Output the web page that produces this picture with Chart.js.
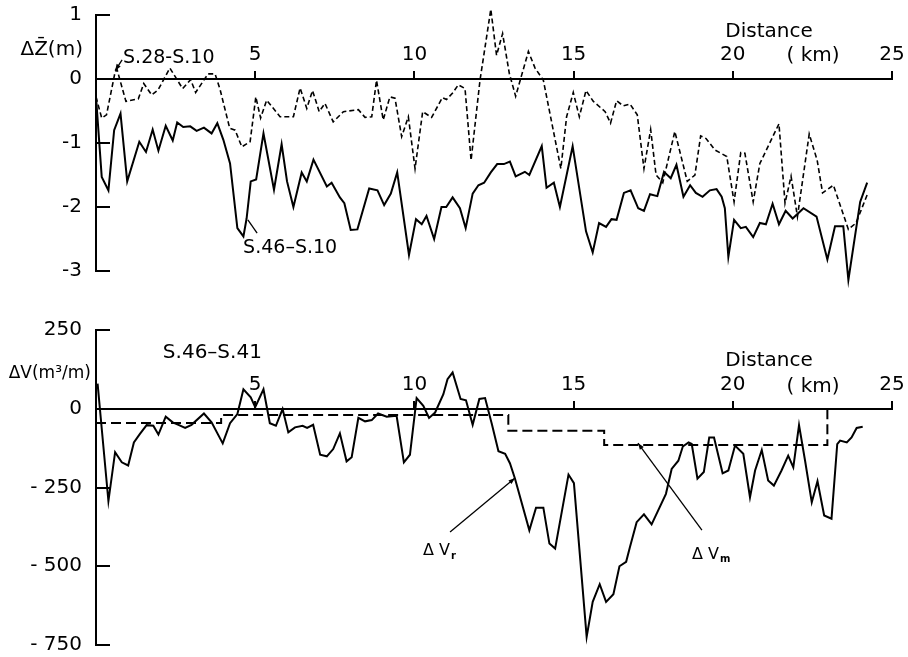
<!DOCTYPE html>
<html>
<head>
<meta charset="utf-8">
<script src="https://cdn.jsdelivr.net/npm/chart.js@4.4.0/dist/chart.umd.min.js"></script>
<style>
  html, body { margin: 0; padding: 0; background: #fff; }
  #wrap { position: relative; width: 908px; height: 657px; }
  canvas { position: absolute; left: 0; }
</style>
</head>
<body>
<div id="wrap">
  <canvas id="topPanel" width="908" height="290" style="top:0"></canvas>
  <canvas id="botPanel" width="908" height="367" style="top:290px"></canvas>
</div>
<script>
// Upper panel: mean bed-level change (m) along the river, km 0-25
const dzSolidKm = [0, 0.18, 0.39, 0.57, 0.77, 0.98, 1.36, 1.57, 1.78, 1.96, 2.19, 2.41, 2.55, 2.74, 2.96, 3.16, 3.39, 3.63, 3.81, 4.0,
  4.21, 4.44, 4.63, 4.73, 4.86, 5.03, 5.26, 5.59, 5.83, 6.0, 6.2, 6.46, 6.62, 6.83, 7.25, 7.4, 7.66, 7.8, 8.0, 8.21,
  8.58, 8.84, 9.05, 9.26, 9.46, 9.83, 10.05, 10.23, 10.38, 10.62, 10.85, 11.0, 11.2, 11.43, 11.61, 11.83, 12.01, 12.19, 12.4, 12.6,
  12.81, 13.0, 13.18, 13.47, 13.61, 14.0, 14.15, 14.38, 14.57, 14.97, 15.39, 15.6, 15.8, 16.02, 16.19, 16.35, 16.58, 16.79, 17.03, 17.21,
  17.4, 17.63, 17.84, 18.05, 18.23, 18.45, 18.66, 18.84, 19.05, 19.28, 19.49, 19.65, 19.75, 19.86, 20.04, 20.25, 20.41, 20.64, 20.85, 21.04,
  21.25, 21.45, 21.66, 21.88, 22.22, 22.63, 22.97, 23.21, 23.47, 23.63, 24.0, 24.22];
const dzSolid = [-0.28, -1.53, -1.74, -0.8, -0.54, -1.6, -0.98, -1.14, -0.79, -1.12, -0.73, -0.96, -0.68, -0.75, -0.74, -0.81, -0.76, -0.85, -0.69, -0.95,
  -1.32, -2.33, -2.46, -2.18, -1.6, -1.57, -0.85, -1.73, -1.02, -1.6, -2.0, -1.46, -1.6, -1.26, -1.68, -1.62, -1.85, -1.94, -2.36, -2.35,
  -1.71, -1.74, -1.97, -1.79, -1.46, -2.75, -2.19, -2.27, -2.14, -2.5, -2.0, -2.0, -1.85, -2.02, -2.33, -1.79, -1.66, -1.62, -1.46, -1.33,
  -1.33, -1.29, -1.52, -1.45, -1.5, -1.05, -1.7, -1.62, -2.0, -1.05, -2.38, -2.71, -2.25, -2.31, -2.19, -2.2, -1.78, -1.74, -2.02, -2.06,
  -1.8, -1.83, -1.45, -1.55, -1.34, -1.84, -1.66, -1.78, -1.84, -1.74, -1.72, -1.84, -2.02, -2.78, -2.2, -2.33, -2.31, -2.47, -2.25, -2.27,
  -1.95, -2.27, -2.06, -2.18, -2.02, -2.15, -2.82, -2.3, -2.3, -3.14, -1.92, -1.62];

const dzDashKm = [0, 0.18, 0.33, 0.6, 0.66, 0.94, 1.33, 1.5, 1.75, 1.95, 2.32, 2.72, 2.97, 3.13, 3.52, 3.74, 3.9, 4.2, 4.37, 4.58,
  4.84, 5.02, 5.17, 5.36, 5.78, 6.2, 6.41, 6.62, 6.8, 7.01, 7.19, 7.45, 7.77, 8.24, 8.45, 8.66, 8.81, 9.02, 9.23, 9.39,
  9.6, 9.81, 10.02, 10.26, 10.54, 10.88, 11.01, 11.2, 11.38, 11.59, 11.78, 12.06, 12.4, 12.58, 12.77, 12.98, 13.18, 13.58, 13.79, 14.05,
  14.6, 14.78, 14.99, 15.18, 15.39, 15.62, 15.99, 16.16, 16.35, 16.56, 16.77, 17.0, 17.21, 17.42, 17.59, 17.8, 18.18, 18.57, 18.81, 18.99,
  19.16, 19.44, 19.81, 20.04, 20.25, 20.38, 20.64, 20.85, 21.45, 21.64, 21.83, 22.03, 22.4, 22.65, 22.82, 23.16, 23.63, 23.87, 24.22];
const dzDash = [-0.28, -0.61, -0.56, 0.11, 0.15, -0.35, -0.31, -0.07, -0.25, -0.17, 0.17, -0.15, -0.01, -0.21, 0.08, 0.08, -0.17, -0.77, -0.8, -1.06,
  -0.98, -0.28, -0.61, -0.33, -0.59, -0.59, -0.14, -0.46, -0.18, -0.51, -0.38, -0.67, -0.51, -0.48, -0.6, -0.59, -0.02, -0.64, -0.28, -0.3,
  -0.9, -0.59, -1.4, -0.51, -0.6, -0.29, -0.32, -0.22, -0.09, -0.15, -1.27, -0.02, 1.09, 0.37, 0.71, 0.09, -0.27, 0.43, 0.17, -0.02,
  -1.4, -0.59, -0.21, -0.59, -0.18, -0.35, -0.51, -0.69, -0.34, -0.42, -0.39, -0.56, -1.4, -0.79, -1.5, -1.62, -0.82, -1.6, -1.5, -0.89,
  -0.93, -1.11, -1.21, -1.92, -1.15, -1.16, -1.92, -1.32, -0.7, -1.94, -1.52, -2.15, -0.86, -1.27, -1.78, -1.66, -2.35, -2.25, -1.81];

// Lower panel: volume change (m3/m), S.46-S.41
const dvKm = [0.05, 0.39, 0.6, 0.81, 1.01, 1.19, 1.38, 1.59, 1.8, 1.96, 2.19, 2.41, 2.59, 2.8, 3.0, 3.39, 3.63, 3.98, 4.21, 4.44,
  4.63, 4.86, 5.0, 5.26, 5.46, 5.65, 5.86, 6.04, 6.25, 6.49, 6.63, 6.82, 7.04, 7.25, 7.45, 7.66, 7.87, 8.03, 8.24, 8.45,
  8.66, 8.86, 9.13, 9.44, 9.67, 9.86, 10.07, 10.28, 10.46, 10.65, 10.91, 11.04, 11.2, 11.45, 11.62, 11.83, 12.04, 12.22, 12.43, 12.64,
  12.85, 13.0, 13.16, 13.61, 13.82, 14.05, 14.24, 14.42, 14.84, 15.01, 15.41, 15.6, 15.82, 16.02, 16.25, 16.44, 16.65, 16.77, 16.98, 17.21,
  17.45, 17.9, 18.08, 18.29, 18.43, 18.61, 18.71, 18.89, 19.09, 19.26, 19.41, 19.68, 19.86, 20.07, 20.33, 20.54, 20.7, 20.91, 21.11, 21.29,
  21.53, 21.74, 21.9, 22.08, 22.27, 22.48, 22.66, 22.87, 23.1, 23.28, 23.37, 23.58, 23.73, 23.89, 24.08];
const dvR = [80, -293, -138, -170, -180, -107, -80, -52, -54, -82, -25, -43, -51, -61, -51, -15, -43, -110, -46, -17,
  62, 36, 5, 62, -46, -54, -1, -75, -59, -54, -61, -51, -146, -151, -128, -78, -167, -154, -29, -40,
  -36, -15, -25, -22, -170, -146, 34, 9, -29, -12, 46, 94, 115, 31, 27, -51, 31, 34, -48, -135,
  -143, -173, -222, -386, -314, -314, -428, -444, -209, -236, -724, -613, -557, -613, -589, -500, -486, -439, -360, -335,
  -367, -270, -191, -165, -120, -107, -112, -222, -201, -91, -91, -205, -196, -117, -143, -281, -196, -131, -228, -244,
  -196, -149, -186, -52, -165, -297, -230, -339, -349, -112, -101, -107, -91, -61, -57];

// mean value per reach (step line)
const dvmKm = [0, 3.93, 12.95, 15.96, 22.97];
const dvm = [-45, -20, -70, -115, 0];

const dzTicks = [1, 0, -1, -2, -3];
const dvTicks = [250, 0, -250, -500, -750];
const kmTicks = [5, 10, 15, 20, 25];

Chart.defaults.font.family = '"DejaVu Sans", sans-serif';
Chart.defaults.color = '#000';

const pts = (xs, ys) => xs.map((x, i) => ({ x, y: ys[i] }));

// labels and leader lines, placed in data units through the chart's scales
function notes(items) {
  return {
    id: 'notes',
    afterDatasetsDraw(chart) {
      const { ctx, scales: { x, y } } = chart;
      ctx.save();
      ctx.fillStyle = '#000';
      ctx.strokeStyle = '#000';
      for (const it of items) {
        if (it.text) {
          const px = x.getPixelForValue(it.x), py = y.getPixelForValue(it.y);
          ctx.font = `${it.size || 20}px "DejaVu Sans"`;
          ctx.textAlign = it.align || 'center';
          ctx.textBaseline = 'middle';
          ctx.fillText(it.text, px, py);
          if (it.sub) {
            const w = ctx.measureText(it.text).width;
            ctx.font = `bold ${Math.round((it.size || 20) * 0.6)}px "DejaVu Sans"`;
            ctx.textAlign = 'left';
            ctx.fillText(it.sub, px + w + 1, py + (it.size || 20) * 0.3);
          }
        } else {
          const x1 = x.getPixelForValue(it.from[0]), y1 = y.getPixelForValue(it.from[1]);
          const x2 = x.getPixelForValue(it.to[0]), y2 = y.getPixelForValue(it.to[1]);
          ctx.lineWidth = 1.3;
          ctx.beginPath(); ctx.moveTo(x1, y1); ctx.lineTo(x2, y2); ctx.stroke();
          if (it.arrow) {
            const a = Math.atan2(y2 - y1, x2 - x1), L = 7;
            ctx.beginPath();
            ctx.moveTo(x2, y2);
            ctx.lineTo(x2 - L * Math.cos(a - 0.35), y2 - L * Math.sin(a - 0.35));
            ctx.lineTo(x2 - L * Math.cos(a + 0.35), y2 - L * Math.sin(a + 0.35));
            ctx.closePath(); ctx.fill();
          }
        }
      }
      ctx.restore();
    }
  };
}

function xAxis() {
  return {
    type: 'linear', min: 0, max: 25,
    position: { y: 0 },
    afterFit: s => { s.height = 0; s.paddingLeft = 0; s.paddingRight = 0; },
    afterBuildTicks: s => { s.ticks = kmTicks.map(v => ({ value: v })); },
    ticks: { autoSkip: false, maxRotation: 0, padding: -27, font: { size: 20 } },
    grid: { drawOnChartArea: false, tickLength: -9, color: '#000', lineWidth: 2 },
    border: { color: '#000', width: 2 }
  };
}

function yAxis(min, max, list, fmt) {
  return {
    min, max,
    // labels sit left of inward ticks; keep the plot edges where the layout padding puts them
    afterFit: s => { s.width = 96; s.paddingTop = 0; s.paddingBottom = 0; },
    afterBuildTicks: s => { s.ticks = list.map(v => ({ value: v })); },
    ticks: { padding: 28, font: { size: 20 }, callback: fmt },
    grid: { drawOnChartArea: false, tickLength: -14, color: '#000', lineWidth: 2 },
    border: { color: '#000', width: 2 }
  };
}

const baseOpts = {
  responsive: false, animation: false, events: [],
  plugins: { legend: { display: false }, tooltip: { enabled: false } }
};

new Chart(document.getElementById('topPanel'), {
  type: 'line',
  data: {
    datasets: [
      { label: 'S.46-S.10', data: pts(dzSolidKm, dzSolid), borderColor: '#000', borderWidth: 2, pointRadius: 0, tension: 0, clip: false },
      { label: 'S.28-S.10', data: pts(dzDashKm, dzDash), borderColor: '#000', borderWidth: 1.6, borderDash: [5, 3], pointRadius: 0, tension: 0, clip: false }
    ]
  },
  options: {
    ...baseOpts,
    layout: { padding: { top: 15, right: 16, bottom: 19, left: 0 } },
    scales: {
      x: xAxis(),
      y: yAxis(-3, 1, dzTicks, v => v < 0 ? '-' + Math.abs(v) : String(v))
    }
  },
  plugins: [notes([
    { text: 'ΔZ\u0304(m)', x: -0.41, y: 0.45, align: 'right' },
    { text: 'S.28-S.10', x: 0.85, y: 0.33, align: 'left', size: 19 },
    { from: [0.82, 0.30], to: [0.6, 0.13], arrow: true },
    { text: 'S.46–S.10', x: 4.62, y: -2.64, align: 'left', size: 19 },
    { from: [5.06, -2.41], to: [4.77, -2.2] },
    { text: 'Distance', x: 21.14, y: 0.73 },
    { text: '( km)', x: 22.52, y: 0.36 }
  ])]
});

new Chart(document.getElementById('botPanel'), {
  type: 'line',
  data: {
    datasets: [
      { label: 'ΔVr', data: pts(dvKm, dvR), borderColor: '#000', borderWidth: 2, pointRadius: 0, tension: 0, clip: false },
      { label: 'ΔVm', data: pts(dvmKm, dvm), borderColor: '#000', borderWidth: 2, borderDash: [10, 5], stepped: true, pointRadius: 0, clip: false }
    ]
  },
  options: {
    ...baseOpts,
    layout: { padding: { top: 40, right: 16, bottom: 12, left: 0 } },
    scales: {
      x: xAxis(),
      y: yAxis(-750, 250, dvTicks, v => v < 0 ? '- ' + Math.abs(v) : String(v))
    }
  },
  plugins: [notes([
    { text: 'ΔV(m³/m)', x: -0.16, y: 113, align: 'right', size: 17 },
    { text: 'S.46–S.41', x: 2.1, y: 177, align: 'left' },
    { text: 'Distance', x: 21.14, y: 151 },
    { text: '( km)', x: 22.52, y: 69 },
    { text: 'Δ V', sub: 'r', x: 10.27, y: -452, align: 'left', size: 16 },
    { from: [11.12, -391], to: [13.16, -220], arrow: true },
    { text: 'Δ V', sub: 'm', x: 18.72, y: -464, align: 'left', size: 16 },
    { from: [19.03, -385], to: [17.02, -109], arrow: true }
  ])]
});
</script>
</body>
</html>
